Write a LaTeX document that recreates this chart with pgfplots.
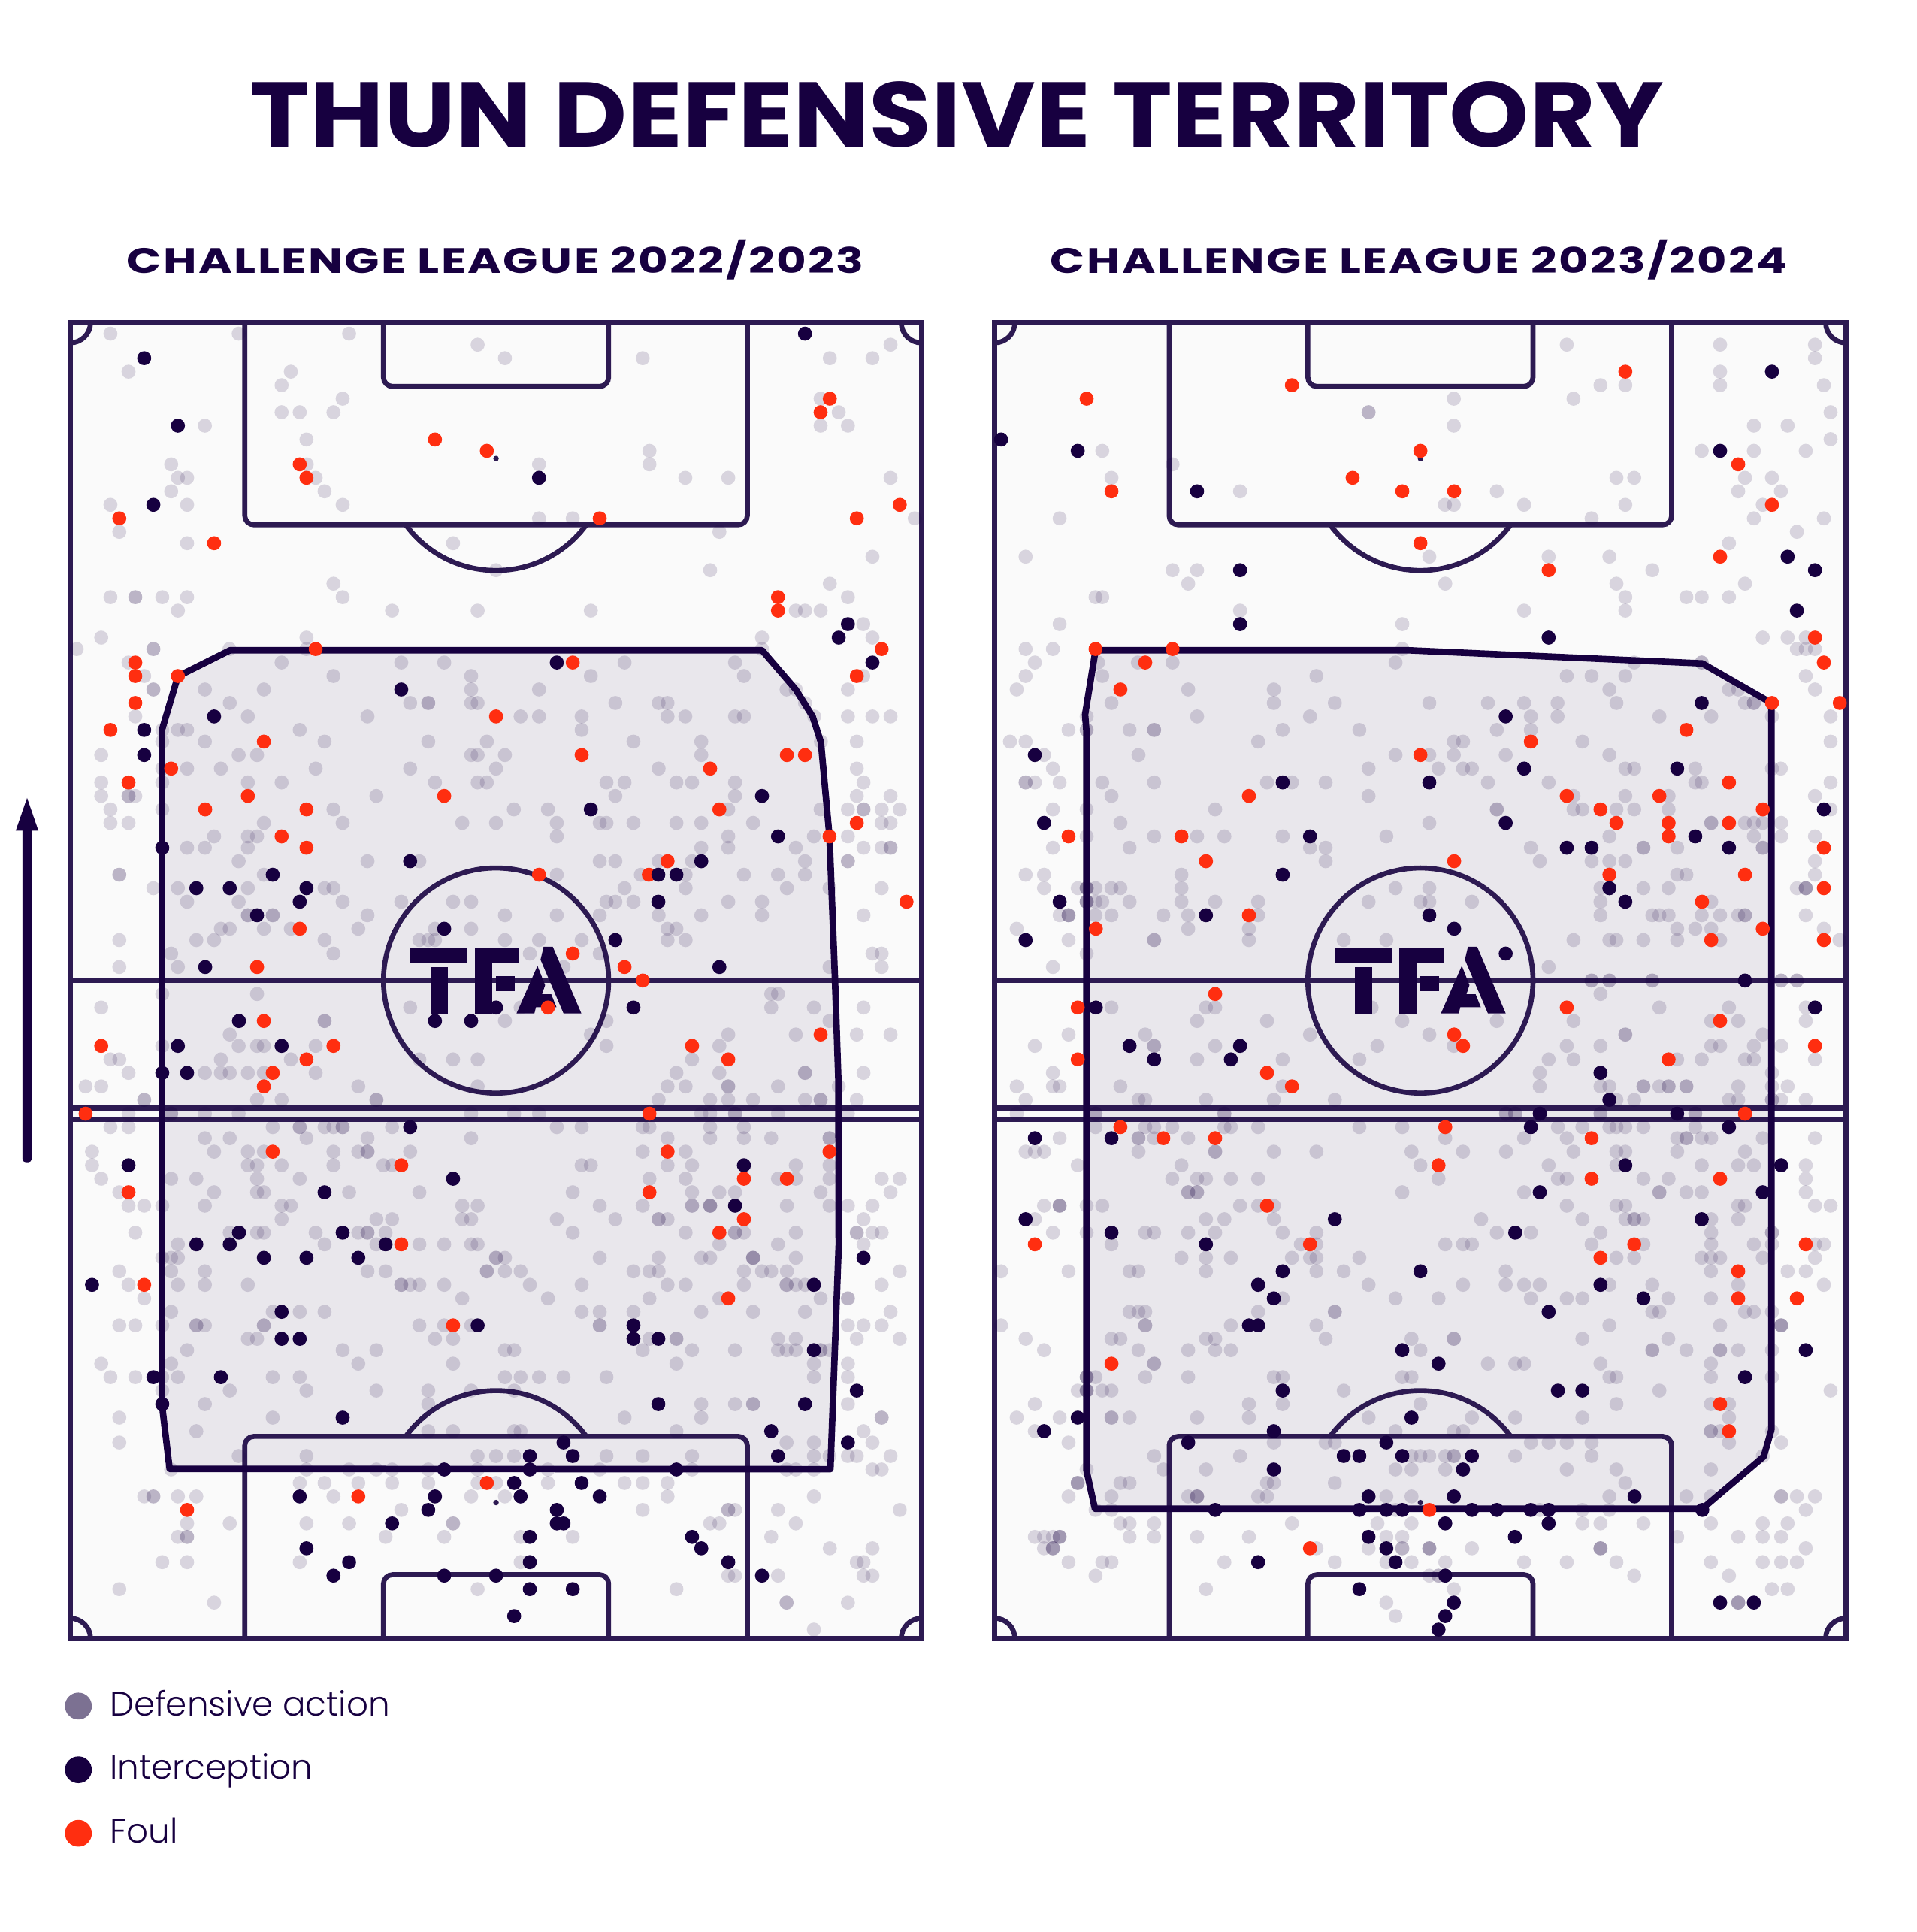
\documentclass[border=0pt]{standalone}
\usepackage{fontspec}
\usepackage{graphicx}
\usepackage{pgfplots}
\pgfplotsset{compat=1.18}
\setmainfont{Poppins}
\newfontfamily\titlefont{Poppins Bold}
\newfontfamily\subfont[LetterSpace=4]{Poppins Bold}
\newfontfamily\legfont{Poppins Light}
\definecolor{navy}{HTML}{170040}
\definecolor{line}{HTML}{2D1A52}
\definecolor{bgp}{HTML}{FAFAFA}
\definecolor{foul}{HTML}{FF2E10}
\definecolor{legdef}{HTML}{7C7192}
\pgfplotsset{
  dfn/.style={only marks,mark=*,mark size=1.62pt,mark options={draw opacity=0,fill=navy,fill opacity=.15},forget plot},
  itc/.style={only marks,mark=*,mark size=1.62pt,mark options={draw opacity=0,fill=navy},forget plot},
  fou/.style={only marks,mark=*,mark size=1.62pt,mark options={draw opacity=0,fill=foul},forget plot},
  panel/.style={scale only axis,width=6.908cm,height=10.678cm,hide axis,y dir=reverse,ymin=72,ymax=4362,clip=false},
  legimg/.style={legend image code/.code={\draw[##1] plot coordinates {(0cm,0cm)};}},
}
% pitch background: #1 = left edge, #2 = right edge
\newcommand\pitchbg[2]{\fill[bgp] (#1,72) rectangle (#2,4362);}
% pitch markings: #1 left edge, #2 right edge, #3 centre line x
\newcommand\pitchlines[3]{%
  \begin{scope}[line,draw=line,line width=1.15pt,rounded corners=2.1pt]
    \draw ({#3-819},72) -- ({#3-819},731) -- ({#3+819},731) -- ({#3+819},72);
    \draw ({#3-367},72) -- ({#3-367},280) -- ({#3+367},280) -- ({#3+367},72);
    \draw ({#3-819},4362) -- ({#3-819},3703) -- ({#3+819},3703) -- ({#3+819},4362);
    \draw ({#3-367},4362) -- ({#3-367},4154) -- ({#3+367},4154) -- ({#3+367},4362);
  \end{scope}
  \begin{scope}
    \clip (#1,731) rectangle (#2,1200);
    \draw[draw=line,line width=1.15pt] (#3,515) circle[radius=365];
  \end{scope}
  \begin{scope}
    \clip (#1,3703) rectangle (#2,3300);
    \draw[draw=line,line width=1.15pt] (#3,3919) circle[radius=365];
  \end{scope}
  \fill[line] (#3,515) circle[radius=9];
  \fill[line] (#3,3919) circle[radius=9];
  \draw[draw=line,line width=1.15pt] (#3,2217) circle[radius=367];
  \draw[draw=line,line width=1.25pt] (#1,2217) -- (#2,2217);
  \draw[draw=line,line width=1.15pt] (#1,2632) -- (#2,2632);
  \draw[draw=line,line width=1.15pt] (#1,2669) -- (#2,2669);
  \begin{scope}
    \clip (#1,72) rectangle (#2,4362);
    \draw[draw=line,line width=1.15pt] (#1,72) circle[radius=66];
    \draw[draw=line,line width=1.15pt] (#2,72) circle[radius=66];
    \draw[draw=line,line width=1.15pt] (#1,4362) circle[radius=66];
    \draw[draw=line,line width=1.15pt] (#2,4362) circle[radius=66];
  \end{scope}
  \draw[draw=line,line width=1.3pt] (#1,72) rectangle (#2,4362);
}
% logo: #1 centre x
\newcommand\tfa[1]{%
  \fill[navy] ({#1-279},2111) rectangle ({#1-93},2161);
  \fill[navy] ({#1-214},2173) rectangle ({#1-158},2324);
  \fill[navy] ({#1-69},2111) rectangle ({#1+76},2161);
  \fill[navy] ({#1-69},2161) rectangle ({#1-13},2324);
  \fill[navy] ({#1},2202) rectangle ({#1+60},2251);
  \fill[navy] ({#1+155},2107) -- ({#1+185},2107) -- ({#1+278},2324) -- ({#1+220},2324) -- ({#1+145},2149) -- cycle;
  \fill[navy] ({#1+135},2169) -- ({#1+160},2232) -- ({#1+150},2262) -- ({#1+180},2262) -- ({#1+197},2304) -- ({#1+130},2304) -- ({#1+125},2324) -- ({#1+67},2324) -- cycle;
}
\begin{document}
\begin{tikzpicture}
\path[use as bounding box] (0,0) rectangle (15.55,15.678);
\node[text=navy] at (7.765,14.75) {\resizebox{11.47cm}{0.53cm}{\titlefont THUN DEFENSIVE TERRITORY}};
\node[text=navy] at (4.02,13.57) {\resizebox{5.98cm}{0.27cm}{\subfont CHALLENGE LEAGUE 2022/2023}};
\node[text=navy] at (11.515,13.57) {\resizebox{5.98cm}{0.27cm}{\subfont CHALLENGE LEAGUE 2023/2024}};
\fill[navy,rounded corners=0.8pt] (0.1823,6.246) rectangle (0.2569,9.0);
\fill[navy] (0.2196,9.203) -- (0.3116,8.937) -- (0.1276,8.937) -- cycle;

\begin{axis}[panel,at={(0.570cm,2.382cm)},xmin=229,xmax=3004,
  legend style={at={(0,0)},anchor=north west,draw=none,fill=none,font=\legfont\fontsize{7.85pt}{10pt}\selectfont,text=navy,row sep=3.3pt,inner sep=0pt,xshift=-0.05cm,yshift=-0.34cm,nodes={inner xsep=4.15pt,inner ysep=2pt}},
  legend cell align=left,legimg]
\pitchbg{229}{3004}
\addplot[draw=none,fill=navy,fill opacity=.075,forget plot] coordinates {(750,1140)(580,1225)(528,1400)(528,3599)(553,3809)(2707,3810)(2734,3080)(2733,2544)(2722,2217)(2704,1748)(2676,1440)(2649,1356)(2594,1268)(2484,1140)} -- cycle;
\addplot[dfn] coordinates {
(360,108)(778,108)(1138,108)(1557,144)(2903,144)(1646,188)(2095,188)(2705,188)(2844,188)(419,232)(948,232)(918,276)(1117,320)(2675,320)
(918,364)(977,364)(1087,364)(2734,364)(668,408)(2675,408)(2764,408)(999,453)(2117,490)(558,534)(1000,534)(1757,534)(2117,534)
(580,578)(610,578)(1029,578)(2234,578)(2374,578)(2903,578)(558,622)(1058,622)(360,666)(610,666)(1117,666)(1757,710)(1867,710)(2982,710)
(389,754)(2345,754)(610,791)(1477,791)(2844,835)(1617,879)(2315,879)(1087,923)(2705,923)
(360,967)(441,967)(441,967)(529,967)(610,967)(1117,967)(2764,967)(580,1011)(1278,1011)(1557,1011)(1926,1011)(2594,1011)(2624,1011)(2675,1011)
(2814,1055)(330,1099)(999,1099)(2484,1099)(2844,1099)(250,1136)(500,1136)(500,1136)(748,1136)(999,1136)(2484,1136)
(419,1180)(918,1180)(1308,1180)(1448,1180)(2036,1180)(2396,1180)(470,1224)(1087,1224)(1536,1224)(1926,1224)(2425,1224)(2814,1224)
(500,1268)(500,1268)(668,1268)(860,1268)(1536,1268)(1757,1268)(2564,1268)(2594,1268)(2764,1268)
(749,1312)(1337,1312)(1396,1312)(1396,1312)(1536,1312)(1557,1312)(2006,1312)(2147,1312)(2176,1312)(2624,1312)
(441,1356)(808,1356)(1198,1356)(1697,1356)(1757,1356)(1896,1356)(2176,1356)(2234,1356)(2396,1356)(2425,1356)(2654,1356)(2764,1356)(2844,1356)(2903,1356)
(529,1400)(580,1400)(610,1400)(977,1400)(1896,1400)
(529,1438)(668,1438)(1058,1438)(1396,1438)(1587,1438)(2065,1438)(2286,1438)(2676,1438)(2793,1438)
(330,1482)(778,1482)(838,1482)(1536,1482)(1557,1482)(1646,1482)(2286,1482)
(529,1526)(610,1526)(720,1526)(1029,1526)(1337,1526)(1617,1526)(2147,1526)(2793,1526)
(330,1571)(529,1571)(808,1571)(918,1571)(1418,1571)(1557,1571)(1587,1571)(1977,1571)(2036,1571)(2205,1571)(2256,1571)(2396,1571)(2815,1571)
(330,1615)(419,1615)(419,1615)(441,1615)(1227,1615)(2006,1615)(2396,1615)(2793,1615)(2903,1615)
(360,1659)(529,1659)(1087,1659)(1675,1659)(1786,1659)(2374,1659)(2675,1659)(2764,1659)(2815,1659)(2815,1659)(2874,1659)(2933,1659)
(360,1703)(419,1703)(860,1703)(1117,1703)(1507,1703)(1617,1703)(1815,1703)(1955,1703)(1977,1703)(2065,1703)(2205,1703)(2286,1703)(2455,1703)(2874,1703)(2903,1703)
(698,1747)(808,1747)(838,1747)(1815,1747)(2374,1747)(2653,1747)(2764,1747)
(610,1784)(668,1784)(808,1784)(2286,1784)(2374,1784)(2594,1784)(2815,1784)(2874,1784)(2903,1784)(2903,1784)
(778,1828)(1198,1828)(1367,1828)(1955,1828)(2006,1828)(2147,1828)(2256,1828)(2624,1828)(2764,1828)(2764,1828)
(389,1872)(389,1872)(860,1872)(1815,1872)(2089,1872)(2235,1872)(2425,1872)(2536,1872)(2624,1872)
(500,1916)(580,1916)(808,1916)(1058,1916)(1087,1916)(2036,1916)(2235,1916)(2565,1916)(2704,1916)(2874,1916)
(610,1960)(778,1960)(1117,1960)(1308,1960)(1477,1960)(1536,1960)(1977,1960)(2006,1960)(2065,1960)(2374,1960)(2484,1960)
(808,2004)(808,2004)(889,2004)(889,2004)(1198,2004)(1646,2004)(1815,2004)(1955,2004)(2147,2004)(2286,2004)(2484,2004)(2815,2004)
(720,2048)(749,2048)(860,2048)(948,2048)(1168,2048)(1418,2048)(1536,2048)(2176,2048)(2205,2048)
(389,2085)(640,2085)(698,2085)(1058,2085)(1367,2085)(1396,2085)(1418,2085)(1646,2085)(1757,2085)(1896,2085)(2176,2085)(2235,2085)
(558,2129)(1087,2129)(1727,2129)(1955,2129)(2844,2129)(2874,2129)(389,2173)(580,2173)(1837,2173)(2704,2173)(2874,2173)
(529,2261)(838,2261)(2514,2261)(2536,2261)(330,2305)(1337,2305)(1697,2305)(2514,2305)(2653,2305)(2815,2305)
(1058,2349)(1058,2349)(1646,2349)(1977,2349)(2704,2349)(749,2393)(1926,2393)(2374,2393)(2594,2393)(2793,2393)(2903,2393)
(529,2430)(778,2430)(838,2430)(860,2430)(1029,2430)(1977,2430)(2345,2430)
(360,2474)(389,2474)(720,2474)(948,2474)(1367,2474)(1477,2474)(1557,2474)(2256,2474)
(419,2518)(668,2518)(720,2518)(749,2518)(808,2518)(860,2518)(1029,2518)(2205,2518)(2345,2518)(2624,2518)(2624,2518)(2815,2518)
(279,2562)(330,2562)(1168,2562)(1557,2562)(2176,2562)(2235,2562)(2374,2562)(2374,2562)(2536,2562)(2734,2562)
(470,2606)(470,2606)(838,2606)(918,2606)(1227,2606)(1227,2606)(2147,2606)(2315,2606)(2374,2606)(2455,2606)(2624,2606)(2675,2606)(2675,2606)(2793,2606)
(419,2651)(558,2651)(558,2651)(668,2651)(778,2651)(1536,2651)(1676,2651)(1757,2651)(2286,2651)(2315,2651)(2396,2651)(2396,2651)(2536,2651)(2764,2651)
(360,2695)(419,2695)(889,2695)(977,2695)(977,2695)(1058,2695)(1087,2695)(1117,2695)(1117,2695)(1278,2695)(1815,2695)(1896,2695)(2095,2695)(2117,2695)(2315,2695)(2425,2695)
(668,2731)(749,2731)(999,2731)(1198,2731)(1536,2731)(2176,2731)(2315,2731)(2425,2731)(2514,2731)(2704,2731)(2704,2731)
(300,2775)(698,2775)(808,2775)(860,2775)(1087,2775)(1168,2775)(1198,2775)(1198,2775)(1337,2775)(2095,2775)(2235,2775)
(300,2819)(808,2819)(838,2819)(918,2819)(1087,2819)(1250,2819)(1278,2819)(1896,2819)(1926,2819)(2176,2819)(2256,2819)(2594,2819)(2704,2819)
(330,2863)(558,2863)(640,2863)(838,2863)(977,2863)(2117,2863)(2235,2863)(2536,2863)(2594,2863)(2704,2863)(2874,2863)(2933,2863)
(389,2907)(698,2907)(838,2907)(860,2907)(1138,2907)(1367,2907)(1867,2907)(2256,2907)(2345,2907)(2396,2907)(2675,2907)(2903,2907)
(419,2951)(470,2951)(529,2951)(668,2951)(918,2951)(948,2951)(1507,2951)(1557,2951)(1955,2951)(2095,2951)(2256,2951)(2256,2951)(2315,2951)(2315,2951)(2315,2951)(2565,2951)(2704,2951)(2764,2951)(2844,2951)
(918,2995)(1227,2995)(1278,2995)(1507,2995)(1536,2995)(1815,2995)(2006,2995)(2147,2995)(2147,2995)(2176,2995)(2815,2995)
(441,3039)(749,3039)(838,3039)(860,3039)(1029,3039)(1168,3039)(1198,3039)(1198,3039)(1257,3039)(1867,3039)(2235,3039)(2396,3039)(2396,3039)(2425,3039)(2594,3039)(2793,3039)(2793,3039)(2844,3039)(2874,3039)
(580,3077)(1058,3077)(1227,3077)(1367,3077)(1448,3077)(1536,3077)(1557,3077)(2345,3077)(2536,3077)(2815,3077)
(529,3121)(558,3121)(580,3121)(1617,3121)(1617,3121)(1646,3121)(1955,3121)(2147,3121)(2286,3121)(2315,3121)(2455,3121)(2455,3121)(2455,3121)(2594,3121)
(389,3165)(558,3165)(668,3165)(1198,3165)(1257,3165)(1587,3165)(1587,3165)(1646,3165)(1697,3165)(2065,3165)(2117,3165)(2147,3165)(2425,3165)(2484,3165)(2514,3165)(2565,3165)(2933,3165)
(419,3209)(580,3209)(668,3209)(808,3209)(1308,3209)(1308,3209)(1337,3209)(1367,3209)(1448,3209)(1727,3209)(1896,3209)(2176,3209)(2235,3209)(2425,3209)(2564,3209)(2564,3209)(2594,3209)(2624,3209)(2874,3209)
(470,3253)(1507,3253)(1786,3253)(2117,3253)(2345,3253)(2675,3253)(2764,3253)(2764,3253)
(558,3297)(889,3297)(977,3297)(1058,3297)(1896,3297)(1955,3297)(2065,3297)(2286,3297)(2455,3297)(2624,3297)(2903,3297)
(389,3341)(441,3341)(529,3341)(640,3341)(640,3341)(668,3341)(860,3341)(860,3341)(1367,3341)(1448,3341)(1536,3341)(1955,3341)(1955,3341)(2764,3341)(2815,3341)(2874,3341)
(808,3385)(838,3385)(1418,3385)(1477,3385)(2117,3385)(2205,3385)(2205,3385)(2536,3385)(2594,3385)(2793,3385)(2933,3385)
(610,3422)(1117,3422)(1227,3422)(1646,3422)(1676,3422)(2095,3422)(2256,3422)(2396,3422)(2536,3422)(2564,3422)(2594,3422)(2675,3422)(2675,3422)(2704,3422)
(330,3466)(558,3466)(1168,3466)(1477,3466)(2205,3466)(2653,3466)(2764,3466)
(360,3510)(441,3510)(529,3510)(580,3510)(889,3510)(977,3510)(1646,3510)(1697,3510)(1757,3510)(1837,3510)(1977,3510)(2653,3510)(2764,3510)
(529,3554)(749,3554)(999,3554)(1227,3554)(1396,3554)(1536,3554)(1676,3554)
(668,3598)(1396,3598)(2286,3598)(2396,3598)(2455,3598)(2455,3598)(2764,3598)
(389,3642)(889,3642)(2036,3642)(2286,3642)(2874,3642)(2874,3642)
(640,3686)(1396,3686)(1477,3686)(1676,3686)(1697,3686)(2205,3686)(2815,3686)
(389,3723)(2564,3723)(2653,3723)(2844,3723)
(778,3767)(999,3767)(1557,3767)(1617,3767)(1676,3767)(1977,3767)(2095,3767)(2256,3767)(2653,3767)(2704,3767)(2764,3767)(2793,3767)(2903,3767)
(558,3811)(999,3811)(1138,3811)(1227,3811)(1278,3811)(1396,3811)(1557,3811)(1786,3811)(1955,3811)(2256,3811)(2564,3811)(2594,3811)(2653,3811)(2844,3811)(2874,3811)
(977,3855)(1058,3855)(1168,3855)(1278,3855)(1396,3855)(1557,3855)(1617,3855)(1786,3855)(2036,3855)(2095,3855)(2176,3855)
(470,3899)(500,3899)(500,3899)(580,3899)(640,3899)(1087,3899)(1536,3899)(1646,3899)(2176,3899)(2653,3899)
(1308,3943)(2095,3943)(2374,3943)(2374,3943)(2396,3943)(2536,3943)(2933,3943)
(610,3987)(749,3987)(999,3987)(1138,3987)(1477,3987)(1477,3987)(2315,3987)(2345,3987)(2594,3987)
(580,4031)(610,4031)(610,4031)(1257,4031)(1448,4031)(1697,4031)(1867,4031)(2514,4031)
(2705,4068)(2844,4068)(529,4113)(610,4113)(977,4113)(1697,4113)(2793,4113)(2815,4113)
(2374,4157)(2396,4157)(2536,4157)(2815,4157)(2844,4157)(389,4201)(1557,4201)(2205,4201)(698,4245)(2564,4245)(2564,4245)(2764,4245)(2653,4333)
};
\pitchlines{229}{3004}{1617}
\addplot[navy,line width=1.5pt,line join=round,forget plot] coordinates {(750,1140)(580,1225)(528,1400)(528,3599)(553,3809)(2707,3810)(2734,3080)(2733,2544)(2722,2217)(2704,1748)(2676,1440)(2649,1356)(2594,1268)(2484,1140)} -- cycle;
\tfa{1617}
\addplot[fou] coordinates {
(1418,453)(977,534)(999,578)(389,710)(698,791)(1029,1136)(441,1180)(441,1224)(580,1224)(441,1312)(360,1400)(860,1438)(558,1526)
(2705,320)(2675,364)(1587,490)(1955,710)(2933,666)(2793,710)(2536,967)(2536,1011)(2874,1136)(1867,1180)(2793,1224)(1617,1356)(1896,1482)(2565,1482)(2624,1482)(2315,1526)
(419,1571)(808,1615)(1448,1615)(669,1659)(999,1659)(918,1747)(999,1784)(977,2048)(838,2173)(860,2349)(330,2430)(1087,2430)(999,2474)(889,2518)(860,2562)(279,2651)(889,2775)(1308,2819)(419,2907)(1308,3077)
(2345,1659)(2793,1703)(2704,1747)(2176,1828)(1757,1872)(2115,1872)(2955,1960)(1867,2129)(2036,2173)(2095,2217)(1786,2305)(2256,2430)(2675,2393)(2374,2474)(2117,2651)(2176,2775)(2704,2775)(2425,2863)(2565,2863)(2117,2907)(2425,2995)(2345,3039)
(470,3209)(1477,3341)(1168,3899)(610,3943)(2374,3253)(1587,3855)
};
\addplot[itc] coordinates {
(470,188)(580,408)(500,666)(1308,1268)(698,1356)(470,1400)(470,1482)(2624,108)(1757,578)(1815,1180)(2764,1055)(2734,1099)(2844,1180)
(529,1784)(1337,1828)(889,1872)(640,1916)(749,1916)(999,1916)(977,1960)(838,2004)(1448,2048)(669,2173)(1418,2349)(1536,2349)(779,2349)(580,2430)(918,2430)(529,2518)(610,2518)(1337,2695)(419,2819)(1477,2863)(1058,2907)(779,3039)(1117,3039)(640,3077)(749,3077)(1257,3077)
(1926,1659)(2484,1615)(2536,1747)(2286,1828)(2146,1872)(2205,1872)(2146,1960)(2006,2085)(2345,2173)(1617,2305)(2065,2305)(2425,2819)(2396,2951)
(860,3121)(999,3121)(1168,3121)(300,3209)(918,3297)(918,3385)(977,3385)(500,3510)(720,3510)(529,3598)(1117,3642)(1448,3811)(977,3899)(1418,3899)(1396,3943)(1278,3987)(999,4068)(1138,4113)(1087,4157)(1448,4157)
(2815,3121)(2653,3209)(1557,3341)(2065,3341)(2065,3385)(2146,3385)(2653,3422)(2793,3554)(2146,3598)(2624,3598)(2514,3686)(1837,3723)(2764,3723)(1727,3767)(1867,3767)(2536,3767)(1727,3811)(2205,3811)(1676,3855)(1896,3855)(1697,3899)(1955,3899)(1815,3943)(1815,3987)(1837,3987)(2256,4031)(1727,4031)(2286,4068)(1727,4113)(2374,4113)(1617,4157)(2484,4157)(1727,4201)(1867,4201)(1676,4289)
};
\addlegendimage{only marks,mark=*,mark size=3.1pt,mark options={draw opacity=0,fill=legdef}}
\addlegendentry{Defensive action}
\addlegendimage{only marks,mark=*,mark size=3.1pt,mark options={draw opacity=0,fill=navy}}
\addlegendentry{Interception}
\addlegendimage{only marks,mark=*,mark size=3.1pt,mark options={draw opacity=0,fill=foul}}
\addlegendentry{Foul}
\end{axis}

\begin{axis}[panel,at={(8.071cm,2.382cm)},xmin=33,xmax=2808]
\pitchbg{33}{2808}
\addplot[draw=none,fill=navy,fill opacity=.075,forget plot] coordinates {(362,1140)(1380,1140)(2340,1183)(2565,1312)(2565,3682)(2540,3769)(2340,3939)(360,3939)(332,3812)(332,1400)(328,1350)} -- cycle;
\addplot[dfn] coordinates {
(1898,144)(2398,144)(2707,144)(2707,188)(2398,232)(2008,276)(2089,276)(2398,276)(2736,276)(1530,320)(1920,320)(1252,364)(1252,364)(2758,364)
(1530,408)(2508,408)(2618,408)(2758,452)(384,490)(2338,490)(2508,490)(2677,490)(613,534)(414,578)(2060,578)(2118,578)(2479,578)(2567,578)
(833,622)(1670,622)(2457,622)(2596,622)(1501,666)(1530,666)(1759,666)(2089,666)(2537,666)(245,710)(1979,710)(2508,710)(2736,710)(2648,754)(2427,791)
(134,835)(1450,835)(1839,835)(2037,835)(613,879)(693,879)(2177,879)(664,923)(1502,923)(2060,923)(2479,923)
(362,967)(384,967)(2089,967)(2288,967)(2338,967)(2427,967)(833,1011)(1759,1011)(2089,1011)(245,1055)(1362,1055)(2537,1099)(2618,1099)(2677,1099)
(134,1136)(223,1136)(1362,1136)(2648,1136)(2677,1136)(2707,1136)(164,1180)(370,1180)(500,1180)(613,1180)(1340,1180)(2118,1180)(2338,1180)(2338,1180)
(134,1224)(384,1224)(1082,1224)(1898,1224)(1979,1224)(2089,1224)(2677,1224)(105,1268)(664,1268)(943,1268)(2037,1268)(2427,1268)(2457,1268)(2707,1268)
(414,1312)(943,1312)(1142,1312)(1450,1312)(1641,1312)(1759,1312)(1868,1312)(2060,1312)(2479,1312)(2508,1312)(2508,1312)
(333,1356)(693,1356)(1061,1356)(1781,1356)(1868,1356)(2200,1356)(2369,1356)(2567,1356)(2758,1356)
(274,1400)(333,1400)(333,1400)(473,1400)(553,1400)(553,1400)(972,1400)(1222,1400)(1670,1400)(1781,1400)
(83,1438)(134,1438)(892,1438)(1530,1438)(1560,1438)(1949,1438)(2758,1438)(194,1482)(502,1482)(1340,1482)(1450,1482)(1530,1482)(1699,1482)(2037,1482)
(223,1526)(1252,1526)(1480,1526)(1560,1526)(1589,1526)(2089,1526)(2118,1526)(2317,1526)(2567,1526)(2596,1526)
(164,1571)(134,1571)(134,1571)(245,1571)(384,1571)(553,1571)(921,1571)(1002,1571)(1112,1571)(1641,1571)(1839,1571)(2317,1571)(2338,1571)(2758,1571)
(414,1615)(1252,1615)(1920,1615)(2089,1615)(2230,1615)(2707,1615)
(223,1659)(333,1659)(752,1659)(1670,1659)(1670,1659)(1920,1659)(1949,1659)(2060,1659)(2118,1659)(2230,1659)(2758,1659)
(443,1703)(1450,1703)(2369,1703)(2369,1703)(2479,1703)(2508,1703)(2537,1703)(2597,1703)
(333,1747)(553,1747)(693,1747)(782,1747)(972,1747)(1310,1747)(2037,1747)(2508,1747)(2597,1747)(2707,1747)
(223,1784)(473,1784)(1061,1784)(1112,1784)(1781,1784)(2148,1784)(2148,1784)(2258,1784)(2537,1784)(2537,1784)
(1112,1828)(1810,1828)(1979,1828)(2037,1828)(2089,1828)(2707,1828)(134,1872)(194,1872)(642,1872)(2258,1872)(2288,1872)(2707,1872)
(194,1916)(304,1916)(333,1916)(333,1916)(333,1916)(362,1916)(414,1916)(443,1916)(642,1916)(1340,1916)(1450,1916)(2008,1916)(2148,1916)(2230,1916)(2648,1916)(2677,1916)(2677,1916)(2677,1916)
(333,1960)(333,1960)(333,1960)(362,1960)(384,1960)(473,1960)(642,1960)(752,1960)(892,1960)(1252,1960)(1421,1960)(1450,1960)(1589,1960)(2008,1960)(2369,1960)
(245,2004)(274,2004)(274,2004)(274,2004)(362,2004)(414,2004)(583,2004)(664,2004)(892,2004)(2008,2004)(2177,2004)(2200,2004)(2230,2004)(2338,2004)(2398,2004)(2457,2004)(2479,2004)(2479,2004)(2677,2004)
(105,2048)(664,2048)(862,2048)(2258,2048)(2317,2048)(2369,2048)(2736,2048)
(274,2085)(553,2085)(553,2085)(862,2085)(1171,2085)(1310,2085)(1920,2085)(2037,2085)(2060,2085)(2148,2085)(2258,2085)(2398,2085)(2787,2085)
(333,2129)(223,2173)(1839,2173)(1979,2217)(1979,2217)(2037,2217)(2037,2217)(2177,2217)(2177,2217)(2597,2217)(2597,2217)(2648,2217)(2648,2217)(2008,2261)
(414,2305)(722,2305)(752,2305)(1262,2305)(2200,2305)(2427,2305)(2677,2305)(693,2349)(921,2349)(1362,2349)(1670,2349)(1920,2349)(2369,2349)(2457,2349)(2677,2349)
(274,2393)(524,2393)(1061,2393)(1450,2393)(2089,2393)(2089,2393)(2537,2393)
(164,2430)(553,2430)(553,2430)(752,2430)(1281,2430)(1530,2430)(1898,2430)(2008,2430)(2369,2430)(2398,2430)(2508,2430)(2597,2430)
(693,2474)(972,2474)(1222,2474)(1839,2474)(1920,2474)(2258,2474)(2338,2474)(2479,2474)(2508,2474)(2707,2474)(223,2518)(1810,2518)(2567,2518)
(105,2562)(223,2562)(245,2562)(443,2562)(972,2562)(1810,2562)(2008,2562)(2037,2562)(2148,2562)(2148,2562)(2200,2562)(2230,2562)(2230,2562)(2288,2562)(2288,2562)(2457,2562)(2567,2562)(2618,2562)
(134,2606)(502,2606)(524,2606)(722,2606)(943,2606)(1142,2606)(2060,2606)(2118,2606)(2427,2606)(2457,2606)(2567,2606)(2567,2606)(2597,2606)(2677,2606)
(105,2651)(362,2651)(362,2651)(782,2651)(782,2651)(1700,2651)(1700,2651)(1730,2651)(1730,2651)(2008,2651)(2008,2651)(2317,2651)(2317,2651)
(362,2695)(524,2695)(553,2695)(612,2695)(782,2695)(803,2695)(892,2695)(1222,2695)(1362,2695)(1869,2695)(1949,2695)(2037,2695)(2060,2695)(2089,2695)(2148,2695)(2317,2695)
(245,2731)(502,2731)(502,2731)(553,2731)(664,2731)(1502,2731)(1759,2731)(1898,2731)(2258,2731)(2288,2731)(2288,2731)(2338,2731)(2369,2731)(2537,2731)(2707,2731)
(134,2775)(164,2775)(194,2775)(502,2775)(752,2775)(752,2775)(943,2775)(1082,2775)(1392,2775)(1560,2775)(1700,2775)(1920,2775)(2060,2775)(2089,2775)(2258,2775)(2479,2775)
(304,2819)(642,2819)(1421,2819)(1839,2819)(2060,2819)(2338,2819)(2457,2819)(2508,2819)(2677,2819)
(612,2863)(693,2863)(722,2863)(803,2863)(892,2863)(1480,2863)(1869,2863)(1898,2863)(2148,2863)(2230,2863)(2677,2863)
(664,2907)(664,2907)(693,2907)(693,2907)(1362,2907)(1759,2907)(2200,2907)(2200,2907)(2288,2907)(2338,2907)(2677,2907)
(194,2951)(245,2951)(245,2951)(245,2951)(333,2951)(384,2951)(833,2951)(892,2951)(943,2951)(1898,2951)(2060,2951)(2089,2951)(2457,2951)(2479,2951)(2707,2951)(2758,2951)
(164,2995)(722,2995)(782,2995)(943,2995)(1619,2995)(1949,2995)(2089,2995)(2118,2995)(2118,2995)(2148,2995)(2369,2995)(2457,2995)
(223,3039)(333,3039)(524,3039)(553,3039)(664,3039)(752,3039)(972,3039)(1082,3039)(1670,3039)(1781,3039)(2008,3039)(2369,3039)(2567,3039)(2567,3039)
(414,3077)(1031,3077)(1082,3077)(1502,3077)(1560,3077)(1589,3077)(1979,3077)(2148,3077)(2369,3077)(2508,3077)(2567,3077)(2707,3077)(2736,3077)
(642,3121)(722,3121)(803,3121)(1002,3121)(1061,3121)(1082,3121)(1222,3121)(2060,3121)(2118,3121)(2338,3121)(2368,3121)(2398,3121)(2537,3121)(2707,3121)
(54,3165)(274,3165)(473,3165)(502,3165)(722,3165)(1082,3165)(1171,3165)(1699,3165)(2368,3165)(2618,3165)(2677,3165)
(1252,3209)(1560,3209)(1699,3209)(1759,3209)(1810,3209)(2037,3209)(2177,3209)(2457,3209)(2736,3209)
(972,3253)(1340,3253)(1480,3253)(1781,3253)(1898,3253)(1949,3253)(2229,3253)(2368,3253)
(473,3297)(502,3297)(524,3297)(892,3297)(1142,3297)(1142,3297)(2177,3297)(2200,3297)(2479,3297)(2508,3297)(2567,3297)
(54,3341)(524,3341)(524,3341)(803,3341)(1082,3341)(2037,3341)(2398,3341)(2597,3341)(2597,3341)(2597,3341)
(134,3385)(414,3385)(443,3385)(722,3385)(752,3385)(1112,3385)(1392,3385)(1530,3385)(1530,3385)(1949,3385)(2229,3385)
(194,3422)(502,3422)(664,3422)(752,3422)(803,3422)(1421,3422)(2177,3422)(2177,3422)(2288,3422)(2398,3422)(2398,3422)(2457,3422)(2567,3422)
(553,3466)(553,3466)(1641,3466)(1730,3466)(1759,3466)(2008,3466)(2368,3466)
(333,3510)(333,3510)(333,3510)(362,3510)(524,3510)(664,3510)(943,3510)(972,3510)(1362,3510)(1392,3510)(2037,3510)(2060,3510)(2368,3510)(2567,3510)
(304,3554)(333,3554)(333,3554)(333,3554)(384,3554)(414,3554)(1171,3554)(2200,3554)(2758,3554)
(164,3598)(862,3598)(972,3598)(1421,3598)(2060,3598)(2368,3598)(2427,3598)
(105,3642)(245,3642)(414,3642)(414,3642)(473,3642)(693,3642)(862,3642)(1252,3642)(1589,3642)(1730,3642)(1949,3642)(2427,3642)
(164,3686)(1340,3686)(1530,3686)(1560,3686)(2368,3686)(2368,3686)(2398,3686)(2567,3686)
(274,3723)(943,3723)(1112,3723)(1142,3723)(1781,3723)(1839,3723)(1898,3723)(1979,3723)(2427,3723)(2597,3723)
(553,3767)(833,3767)(1392,3767)(1421,3767)(1450,3767)(1502,3767)(1530,3767)(1530,3767)(1730,3767)(1979,3767)(2537,3767)
(333,3811)(583,3811)(722,3811)(1340,3811)(1392,3811)(1502,3811)(1898,3811)(2060,3811)(2368,3811)
(304,3855)(304,3855)(304,3855)(443,3855)(473,3855)(921,3855)(943,3855)(1142,3855)(2089,3855)
(274,3899)(414,3899)(664,3899)(693,3899)(693,3899)(693,3899)(892,3899)(921,3899)(1310,3899)(1392,3899)(2037,3899)(2288,3899)(2368,3899)(2597,3899)(2597,3899)(2648,3899)(2707,3899)
(362,3943)(414,3943)(1340,3943)(1810,3943)(1949,3943)(2037,3943)(2677,3943)
(443,3987)(473,3987)(553,3987)(1002,3987)(1281,3987)(1392,3987)(1949,3987)(2008,3987)(2148,3987)(2368,3987)(2537,3987)(2618,3987)
(164,4031)(194,4031)(223,4031)(245,4031)(245,4031)(245,4031)(473,4031)(553,4031)(693,4031)(862,4031)(1310,4031)(1362,4031)(2258,4031)(2457,4031)(2537,4031)(2597,4031)
(194,4068)(223,4068)(223,4068)(223,4068)(1082,4068)(1252,4068)(1362,4068)(1362,4068)(1450,4068)(1450,4068)(1450,4068)(1589,4068)(2008,4068)(2008,4068)(2008,4068)(2677,4068)
(274,4113)(384,4113)(414,4113)(782,4113)(1142,4113)(1310,4113)(1392,4113)(1502,4113)(1759,4113)(1898,4113)(2060,4113)(2368,4113)(2537,4113)(2597,4113)(2648,4113)
(362,4157)(1450,4157)(1480,4157)(1480,4157)(2118,4157)(2427,4157)(722,4201)(1530,4201)(2567,4201)(2618,4201)(1310,4245)(2457,4245)(2457,4245)(2457,4245)(1340,4289)
};
\pitchlines{33}{2808}{1421}
\addplot[navy,line width=1.5pt,line join=round,forget plot] coordinates {(362,1140)(1380,1140)(2340,1183)(2565,1312)(2565,3682)(2540,3769)(2340,3939)(360,3939)(332,3812)(332,1400)(328,1350)} -- cycle;
\tfa{1421}
\addplot[fou] coordinates {
(333,320)(1002,276)(1421,490)(414,622)(1200,578)(1362,622)(1421,791)(362,1136)(613,1136)(524,1180)(443,1268)(1421,1482)
(2089,232)(1531,622)(2457,534)(2567,666)(2398,835)(1839,879)(2707,1099)(2736,1180)(2567,1312)(2788,1312)(2288,1400)(1781,1438)
(862,1615)(274,1747)(642,1747)(722,1828)(862,2004)(363,2048)(752,2261)(304,2305)(304,2474)(921,2518)(1002,2562)(443,2695)(1502,2695)(583,2731)(752,2731)(1480,2819)(921,2951)(164,3077)(1061,3077)
(2427,1571)(1898,1615)(2200,1615)(2008,1659)(2537,1659)(2060,1703)(2230,1703)(2427,1703)(2230,1747)(2736,1784)(1531,1828)(2037,1872)(2479,1872)(2736,1916)(2339,1960)(2537,2048)(2369,2085)(2736,2085)(1898,2305)(2398,2349)(1531,2393)(1560,2430)(2707,2430)(2230,2474)(2479,2651)(1979,2731)(2398,2863)(1979,2863)(2118,3077)(2677,3077)
(414,3466)(1450,3943)(1061,4068)(2008,3121)(2457,3165)(2457,3253)(2648,3253)(2398,3598)(2427,3686)
};
\addplot[itc] coordinates {
(54,453)(304,490)(693,622)(833,879)(833,1055)(164,1482)(2398,490)(2567,232)(2618,835)(2707,879)(2648,1011)(1839,1099)(2338,1312)(1699,1356)(1759,1526)(2258,1526)
(972,1571)(1450,1571)(194,1703)(1061,1747)(972,1872)(245,1960)(722,2004)(1450,2004)(134,2085)(363,2305)(473,2430)(833,2430)(553,2474)(803,2474)(164,2731)(414,2731)(134,2995)(1142,2995)(414,3039)(722,3077)
(1699,1703)(1898,1784)(1979,1784)(2317,1747)(2427,1784)(2736,1659)(2037,1916)(2089,1960)(1531,2048)(1699,2129)(2479,2217)(2707,2305)(2008,2518)(2037,2606)(1810,2651)(2258,2651)(1781,2695)(2427,2695)(2089,2819)(2597,2819)(1810,2907)(2537,2907)(2338,2995)(1730,3039)
(1421,3165)(892,3209)(972,3165)(943,3253)(862,3341)(892,3341)(1362,3422)(1480,3466)(972,3554)(304,3642)(1392,3642)(194,3686)(943,3686)(664,3723)(1310,3723)(1171,3767)(1222,3767)(1362,3767)(943,3811)(1252,3899)(752,3943)(1222,3943)(1310,3943)(1362,3943)(1502,3987)(1252,4031)(1310,4068)(892,4113)(1340,4113)(1502,4157)(1222,4201)(1502,4289)(1480,4333)
(2008,3209)(2148,3253)(1839,3297)(1869,3554)(1949,3554)(2677,3422)(2479,3510)(1589,3767)(1560,3811)(1530,3899)(2119,3899)(1589,3943)(1670,3943)(1781,3943)(1839,3943)(2340,3943)(1839,3987)(1729,4031)(1530,4245)(2398,4245)(2508,4245)
};
\end{axis}
\end{tikzpicture}
\end{document}
